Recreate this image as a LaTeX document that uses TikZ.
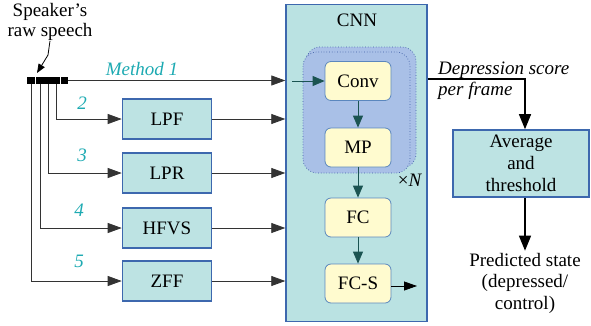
\documentclass[tikz,border=0pt]{standalone}
\usepackage{fontspec}
\setmainfont{Liberation Serif}
\usetikzlibrary{arrows.meta}
\definecolor{boxfill}{HTML}{BDE3E3}
\definecolor{boxedge}{HTML}{3D68AE}
\definecolor{cnnfill}{HTML}{BAE2E2}
\definecolor{layerfill}{HTML}{A9C0E7}
\definecolor{layeredge}{HTML}{3F5FA6}
\definecolor{opfill}{HTML}{FFFBCF}
\definecolor{opedge}{HTML}{5B87BE}
\definecolor{flow}{HTML}{1B5452}
\definecolor{methodcol}{HTML}{1DAAB2}
\definecolor{wire}{HTML}{333333}

\tikzset{
  filt/.style={draw=boxedge, fill=boxfill, line width=1.6pt,
    minimum width=89pt, minimum height=40pt, inner sep=0pt},
  cnnbox/.style={draw=boxedge, fill=cnnfill, line width=1.4pt,
    minimum width=141pt, minimum height=317pt, inner sep=0pt},
  layer/.style={draw=layeredge, fill=layerfill, dotted, line width=0.7pt,
    rounded corners=14pt},
  op/.style={draw=opedge, fill=opfill, line width=0.8pt, rounded corners=6pt,
    minimum width=66pt, minimum height=39pt, inner sep=0pt},
  barseg/.style={fill=black, inner sep=0pt, minimum height=7pt},
  sig/.style={draw=wire, line width=0.8pt, -{Triangle[length=14pt,width=10pt]}},
  flowarrow/.style={draw=flow, line width=0.8pt, -{Triangle[length=12pt,width=10pt]}},
  heavy/.style={draw=black, line width=1.3pt, -{Triangle[length=15pt,width=12pt]}},
  methodlbl/.style={text=methodcol, font=\fontsize{19}{22}\selectfont\itshape, inner sep=0pt},
}

\begin{document}
\begin{tikzpicture}[x=1pt, y=-1pt, font=\fontsize{19}{22}\selectfont]
\useasboundingbox (0,0) rectangle (591,325);

% CNN container with its repeated Conv/MP block
\node[cnnbox] (cnn) at (356.5,163) {};
\node[inner sep=0pt] (cnnlbl) at (357,20) {CNN};
\draw[layer] (306,47) rectangle (416,168);
\draw[layer] (303,52) rectangle (410,173);
\node[inner sep=0pt] (times) at (410,180) {×\textit{N}};

\node[op] (conv) at (358,81)    {Conv};
\node[op] (mp)   at (358,147.5) {MP};
\node[op] (fc)   at (358,217.5) {FC};
\node[op] (fcs)  at (358,283.5) {FC-S};

\coordinate (cin) at (292,81);
\draw[flowarrow] (cin) -- (conv.west);
\draw[flowarrow] (conv) -- (mp);
\draw[flowarrow] (mp) -- (fc);
\draw[flowarrow] (fc) -- (fcs);
\coordinate (fcsout) at (417,286);
\draw[draw=black, line width=0.8pt, -{Triangle[length=13pt,width=9pt]}] (fcs.east |- fcsout) -- (fcsout);

% raw speech source
\node[align=center, inner sep=0pt, font=\fontsize{19}{20}\selectfont] (speech) at (50,22) {Speaker’s\\raw speech};
\node[barseg, minimum width=8pt]  (bar1) at (31,80.5) {};
\node[barseg, minimum width=24pt] (bar2) at (48,80.5) {};
\node[barseg, minimum width=7pt]  (bar3) at (64.5,80.5) {};
\coordinate (rawbend) at (48,55);
\coordinate (rawtip) at (37,73);
\draw[draw=black, line width=0.8pt, -{Triangle[length=9pt,width=7pt]}] (speech.south) -- (rawbend) -- (rawtip);

% preprocessing branches
\node[filt] (lpf)  at (167,119) {LPF};
\node[filt] (lpr)  at (167,173) {LPR};
\node[filt] (hfvs) at (167,228) {HFVS};
\node[filt] (zff)  at (167,281) {ZFF};

\coordinate (b2) at (56,84);
\coordinate (b3) at (48,84);
\coordinate (b4) at (40,84);
\coordinate (b5) at (31,84);

\draw[sig] (bar3.east) -- (bar3.east -| cnn.west);
\draw[sig] (b2) |- (lpf.west);
\draw[sig] (b3) |- (lpr.west);
\draw[sig] (b4) |- (hfvs.west);
\draw[sig] (b5) |- (zff.west);

\foreach \f in {lpf,lpr,hfvs,zff}
  \draw[sig] (\f.east) -- (\f.east -| cnn.west);

\node[methodlbl] (m1) at (142,69) {Method 1};
\node[methodlbl] (m2) at (82,103) {2};
\node[methodlbl] (m3) at (82,155) {3};
\node[methodlbl] (m4) at (79,210) {4};
\node[methodlbl] (m5) at (79,261) {5};

% decision stage
\node[draw=boxedge, fill=boxfill, line width=1.6pt, minimum width=136pt,
      minimum height=67pt, inner sep=0pt, align=center] (avg) at (521,163.5) {Average\\and\\threshold};
\node[align=left, anchor=west, inner sep=0pt, font=\fontsize{19}{21}\selectfont\itshape] (score) at (438,81) {Depression score\\per frame};
\coordinate (turn) at (525,79);
\draw[heavy] (cnn.east |- turn) -- (turn) -- (turn |- avg.north);

\node[align=center, inner sep=2pt, font=\fontsize{19}{21.5}\selectfont] (pred) at (525,283) {Predicted state\\(depressed/\\control)};
\draw[heavy] (avg.south -| turn) -- (pred.north -| turn);
\end{tikzpicture}
\end{document}
